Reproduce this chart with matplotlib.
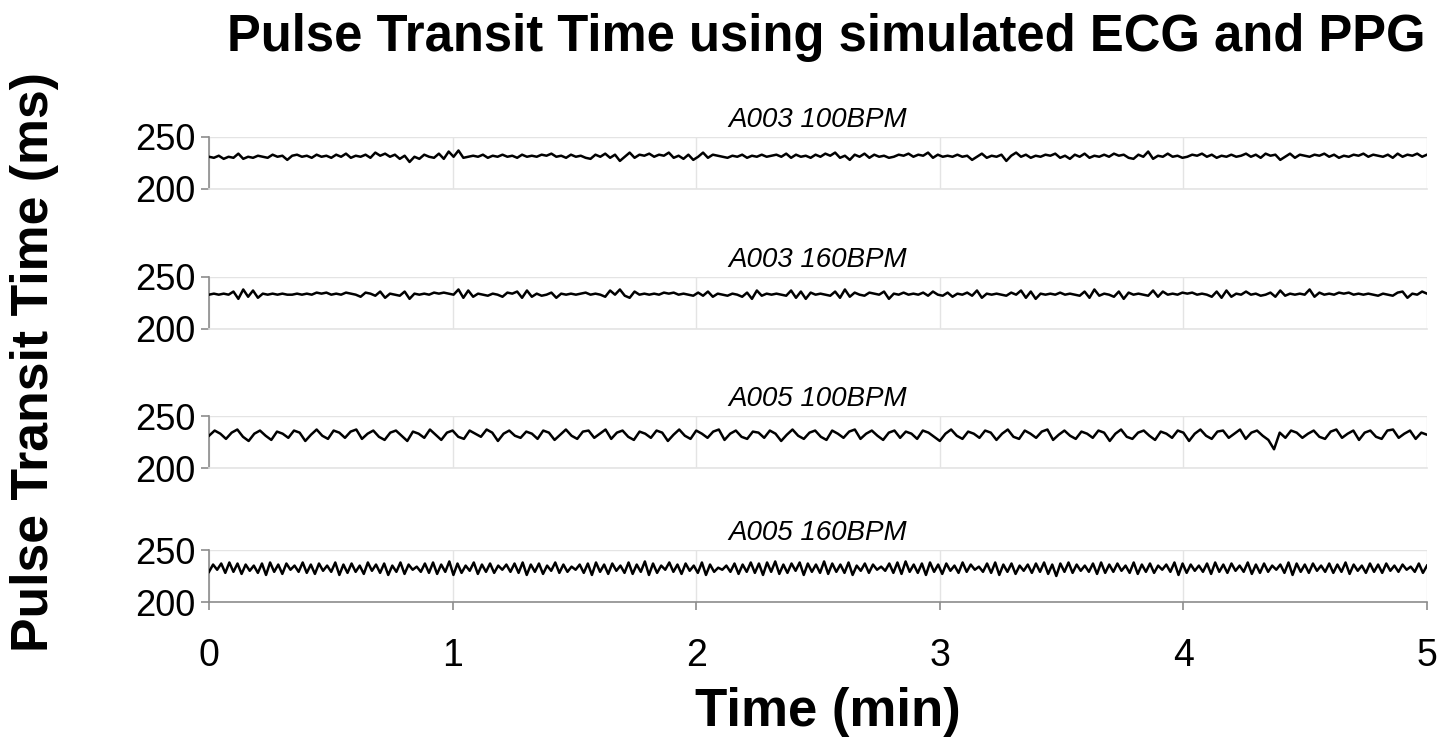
import matplotlib.pyplot as plt
import numpy as np

plt.rcParams['font.family'] = ['Liberation Sans', 'DejaVu Sans']

# panel titles and pulse transit times (ms)
panel_titles = ['A003 100BPM', 'A003 160BPM', 'A005 100BPM', 'A005 160BPM']

ptt_a003_100 = [
    231, 230, 232, 229, 231, 230, 234, 229, 231, 230, 232, 231, 230, 233, 231, 232, 228, 232, 233, 231, 232, 230, 233, 231, 232,
    230, 233, 231, 234, 230, 232, 231, 233, 230, 235, 232, 234, 231, 233, 229, 232, 226, 231, 229, 233, 231, 230, 234, 229, 236,
    231, 237, 230, 231, 232, 231, 233, 230, 232, 231, 233, 231, 232, 230, 233, 231, 232, 231, 233, 232, 234, 231, 232, 230, 233,
    231, 232, 230, 229, 233, 231, 234, 230, 233, 227, 231, 235, 230, 233, 232, 234, 231, 233, 232, 235, 230, 232, 229, 233, 228,
    231, 235, 230, 233, 232, 231, 230, 232, 231, 233, 230, 232, 231, 233, 231, 232, 233, 231, 234, 230, 233, 231, 232, 230, 233,
    231, 234, 232, 235, 230, 232, 228, 233, 231, 234, 230, 233, 231, 232, 230, 231, 233, 232, 234, 231, 233, 232, 235, 230, 233,
    231, 232, 231, 233, 231, 232, 228, 231, 234, 230, 232, 231, 233, 227, 232, 235, 231, 233, 230, 232, 231, 233, 232, 234, 230,
    232, 229, 233, 231, 234, 230, 232, 231, 233, 231, 234, 232, 233, 230, 229, 233, 231, 236, 229, 232, 231, 234, 231, 232, 230,
    231, 233, 232, 234, 231, 233, 230, 232, 231, 233, 231, 232, 234, 231, 233, 230, 234, 232, 233, 228, 231, 234, 230, 233, 232,
    231, 233, 232, 234, 231, 233, 230, 232, 231, 233, 232, 234, 231, 233, 232, 231, 233, 230, 234, 231, 233, 232, 234, 231, 233,
]

ptt_a003_160 = [
    233, 234, 233, 234, 233, 236, 229, 238, 231, 237, 230, 234, 233, 234, 233, 234, 233, 233, 234, 233, 234, 233, 235, 234, 235,
    233, 234, 233, 235, 234, 233, 231, 235, 234, 232, 236, 230, 234, 233, 232, 236, 229, 234, 233, 234, 233, 235, 234, 235, 234,
    233, 238, 230, 237, 231, 234, 233, 232, 234, 233, 231, 235, 234, 236, 230, 237, 231, 234, 232, 233, 235, 230, 234, 233, 234,
    233, 234, 235, 233, 234, 233, 231, 237, 233, 238, 232, 230, 236, 233, 234, 233, 234, 233, 235, 234, 235, 233, 234, 233, 232,
    235, 232, 236, 231, 234, 233, 232, 234, 233, 231, 235, 229, 237, 232, 234, 233, 234, 233, 232, 237, 230, 236, 229, 235, 233,
    234, 233, 232, 236, 230, 238, 231, 235, 233, 232, 235, 234, 233, 236, 229, 234, 233, 235, 233, 234, 233, 235, 232, 236, 233,
    232, 235, 231, 234, 233, 235, 232, 237, 230, 234, 233, 234, 233, 232, 235, 233, 237, 230, 236, 229, 234, 233, 234, 233, 235,
    233, 234, 233, 232, 236, 230, 238, 232, 234, 233, 231, 236, 229, 235, 233, 234, 233, 232, 237, 231, 236, 233, 234, 233, 235,
    234, 235, 233, 234, 233, 231, 236, 230, 237, 231, 234, 233, 236, 233, 234, 232, 233, 235, 231, 237, 232, 234, 233, 234, 233,
    238, 231, 235, 233, 234, 233, 235, 234, 235, 233, 234, 233, 234, 233, 232, 234, 233, 232, 235, 236, 230, 234, 233, 236, 234,
]

ptt_a005_100 = [
    231, 236, 233, 228, 234, 237, 230, 226, 233, 236, 231, 227, 235, 233, 229, 236, 234, 226, 232, 237, 231, 228, 236, 234,
    229, 235, 237, 228, 233, 236, 230, 227, 234, 236, 231, 226, 235, 233, 229, 237, 232, 227, 234, 236, 230, 228, 236, 233,
    230, 237, 234, 226, 233, 236, 231, 229, 235, 233, 228, 236, 234, 227, 232, 237, 231, 228, 235, 236, 229, 233, 237, 228,
    234, 236, 230, 227, 235, 233, 229, 236, 234, 226, 232, 237, 231, 228, 236, 233, 229, 235, 237, 227, 233, 236, 230, 228,
    235, 234, 229, 236, 233, 226, 232, 237, 231, 228, 234, 236, 230, 227, 236, 233, 229, 235, 237, 228, 233, 236, 231, 227,
    234, 236, 229, 235, 233, 228, 236, 234, 230, 226, 233, 237, 231, 228, 235, 233, 229, 236, 234, 227, 233, 237, 230, 228,
    236, 233, 229, 235, 237, 227, 232, 236, 231, 228, 235, 233, 229, 236, 234, 226, 233, 237, 230, 228, 234, 236, 231, 227,
    235, 233, 229, 236, 234, 226, 233, 237, 231, 228, 235, 236, 229, 233, 237, 228, 234, 236, 231, 227, 218, 234, 229, 236,
    234, 229, 233, 236, 230, 228, 235, 237, 229, 233, 236, 227, 234, 236, 230, 228, 236, 237, 229, 233, 236, 228, 234, 232,
]

ptt_a005_160 = [
    229, 236, 231, 237, 228, 238, 229, 237, 227, 236, 230, 235, 228, 237, 226, 238, 229, 236, 227, 237, 231, 235, 229, 238, 228,
    236, 227, 237, 230, 235, 229, 238, 226, 236, 228, 237, 229, 235, 227, 238, 230, 236, 228, 237, 226, 235, 229, 238, 227, 236,
    231, 234, 229, 237, 228, 238, 227, 236, 229, 239, 226, 237, 228, 235, 230, 238, 227, 236, 229, 237, 228, 235, 231, 236, 229,
    237, 228, 238, 226, 236, 229, 237, 227, 235, 230, 238, 228, 236, 229, 234, 231, 236, 228, 237, 226, 238, 229, 236, 227, 237,
    230, 235, 228, 238, 227, 236, 229, 239, 226, 237, 228, 235, 231, 238, 229, 236, 227, 237, 230, 235, 228, 238, 226, 236, 229,
    233, 231, 235, 229, 237, 227, 236, 229, 238, 228, 237, 226, 238, 229, 239, 227, 236, 228, 237, 230, 238, 226, 237, 229, 236,
    228, 239, 227, 237, 229, 236, 228, 238, 226, 235, 230, 237, 228, 236, 231, 234, 230, 237, 228, 238, 227, 239, 229, 236, 228,
    237, 226, 238, 229, 236, 227, 237, 230, 235, 228, 238, 229, 236, 231, 234, 229, 237, 228, 238, 226, 236, 229, 237, 227, 235,
    230, 236, 228, 237, 229, 238, 227, 236, 225, 237, 229, 238, 228, 236, 230, 235, 229, 237, 227, 238, 228, 236, 229, 237, 230,
    235, 228, 238, 227, 236, 229, 237, 228, 235, 231, 236, 229, 238, 226, 237, 228, 236, 230, 235, 229, 237, 227, 238, 229, 236,
    228, 237, 230, 235, 229, 238, 227, 236, 228, 237, 229, 235, 231, 236, 228, 238, 226, 237, 229, 236, 228, 237, 230, 235, 229,
    237, 228, 236, 229, 238, 227, 236, 230, 235, 228, 237, 229, 236, 228, 237, 230, 235, 229, 236, 231, 234, 229, 237, 228, 235,
]

series = [ptt_a003_100, ptt_a003_160, ptt_a005_100, ptt_a005_160]
x_ticks = [0, 1, 2, 3, 4, 5]
y_ticks = [200, 250]

W, H = 1453, 742
fig = plt.figure(figsize=(W / 100, H / 100), dpi=100)

# axes boxes in pixels: (top, bottom)
left_px, right_px = 209, 1427
boxes = [(137, 189), (277, 329), (416, 468), (550, 602)]

grid_col = '#e4e4e4'
axis_col = '#8c8c8c'

for i, (vals, name) in enumerate(zip(series, panel_titles)):
    top, bot = boxes[i]
    ax = fig.add_axes([left_px / W, 1 - bot / H, (right_px - left_px) / W, (bot - top) / H])
    t = np.linspace(0, 5, len(vals))
    ax.plot(t, vals, color='black', lw=1.8, zorder=3)
    ax.set_xlim(0, 5)
    ax.set_ylim(200, 250)
    ax.set_yticks(y_ticks)
    ax.set_xticks(x_ticks)
    ax.grid(True, color=grid_col, lw=1.0)
    ax.set_axisbelow(True)
    for s in ['top', 'right']:
        ax.spines[s].set_visible(False)
    ax.spines['left'].set_color(axis_col)
    ax.spines['left'].set_linewidth(1.2)
    last = i == len(series) - 1
    ax.spines['bottom'].set_color(axis_col if last else grid_col)
    ax.spines['bottom'].set_linewidth(1.2)
    ax.tick_params(axis='y', labelsize=26, length=6, width=1.2, color=axis_col, pad=4)
    ax.tick_params(axis='x', labelsize=27, length=6 if last else 0, width=1.2,
                   color=axis_col, labelbottom=last, pad=20)
    ax.set_title(name, fontsize=20, style='italic', pad=7)

fig.text(826 / W, 1 - 38 / H, 'Pulse Transit Time using simulated ECG and PPG',
         ha='center', va='center', fontsize=36.5, fontweight='bold')
fig.text(35 / W, 1 - 362 / H, 'Pulse Transit Time (ms)', rotation=90,
         ha='center', va='center', fontsize=37.3, fontweight='bold')
fig.text(828 / W, 1 - 712 / H, 'Time (min)', ha='center', va='center',
         fontsize=38, fontweight='bold')

fig.savefig('out.png', dpi=100)
